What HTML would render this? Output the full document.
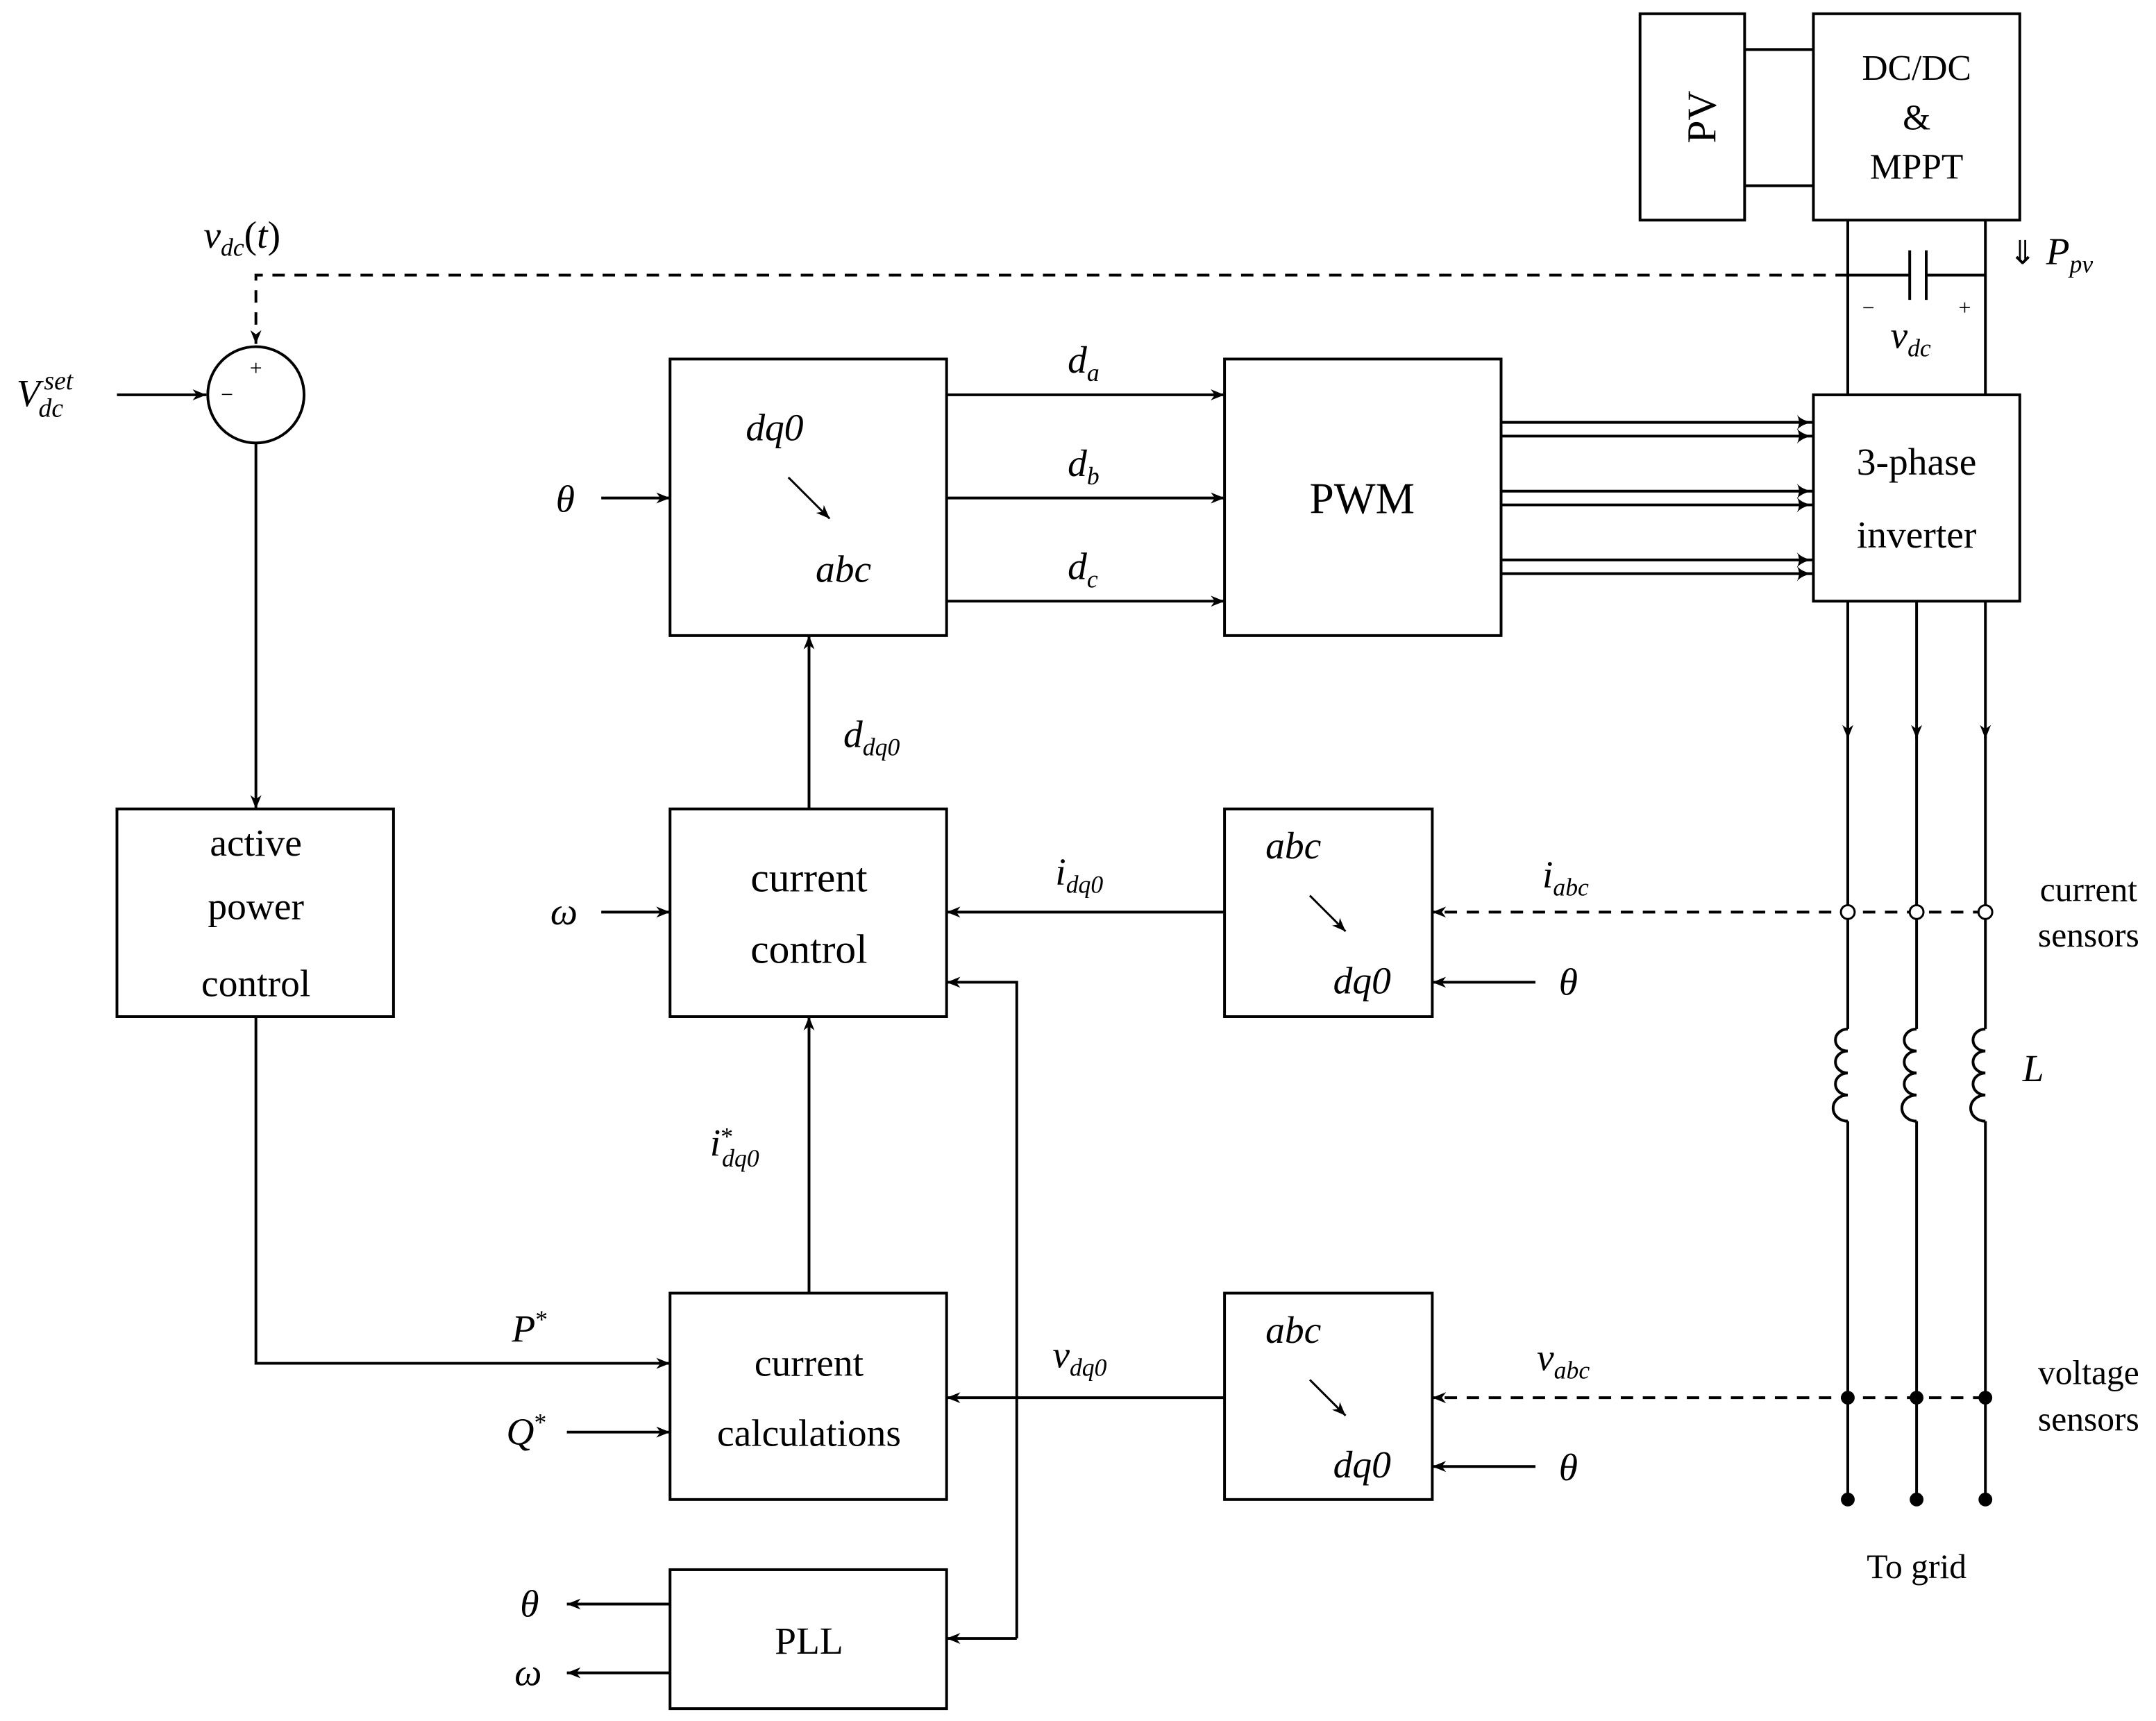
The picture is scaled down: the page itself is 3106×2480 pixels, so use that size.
<!DOCTYPE html>
<html><head><meta charset="utf-8"><style>
html,body{margin:0;padding:0;background:#fff;}
svg{display:block;}
text{font-family:"Liberation Serif",serif;fill:#000;}
.m{font-style:italic;}
</style></head><body>
<svg width="3106" height="2480" viewBox="0 0 1567 1251" preserveAspectRatio="none" xmlns="http://www.w3.org/2000/svg">
<defs>
<marker id="a" markerWidth="12" markerHeight="10" refX="10" refY="5" orient="auto" markerUnits="userSpaceOnUse">
<path d="M0,1 L10,5 L0,9 L3,5 Z" fill="#000"/>
</marker>
<marker id="b" markerWidth="14" markerHeight="12" refX="12" refY="6" orient="auto" markerUnits="userSpaceOnUse">
<path d="M0,0.5 Q4,5 12,6 Q4,7 0,11.5 Q3,6 0,0.5 Z" fill="#000"/>
</marker>
</defs>
<g stroke="#000" stroke-width="2" fill="none">
<rect x="1192" y="10" width="76" height="150"/>
<rect x="1318" y="10" width="150" height="150"/>
<line x1="1268" y1="36" x2="1318" y2="36"/>
<line x1="1268" y1="135" x2="1318" y2="135"/>
<rect x="85" y="588" width="201" height="151"/>
<rect x="487" y="261" width="201" height="201"/>
<rect x="890" y="261" width="201" height="201"/>
<rect x="1318" y="287" width="150" height="150"/>
<rect x="487" y="588" width="201" height="151"/>
<rect x="890" y="588" width="151" height="151"/>
<rect x="487" y="940" width="201" height="150"/>
<rect x="890" y="940" width="151" height="150"/>
<rect x="487" y="1141" width="201" height="101"/>
<circle cx="186" cy="287" r="35"/>
<line x1="1343" y1="160" x2="1343" y2="287"/>
<line x1="1443" y1="160" x2="1443" y2="287"/>
<line x1="1343" y1="200" x2="1388" y2="200"/>
<line x1="1400" y1="200" x2="1443" y2="200"/>
<line x1="1388" y1="182" x2="1388" y2="218"/>
<line x1="1400" y1="182" x2="1400" y2="218"/>
<path d="M1343,200 H186 V250" stroke-dasharray="9,7" marker-end="url(#a)"/>
<line x1="85" y1="287" x2="150" y2="287" marker-end="url(#a)"/>
<line x1="186" y1="322" x2="186" y2="588" marker-end="url(#a)"/>
<path d="M186,739 V991 H487" marker-end="url(#a)"/>
<line x1="412" y1="1041" x2="487" y2="1041" marker-end="url(#a)"/>
<line x1="588" y1="940" x2="588" y2="739" marker-end="url(#a)"/>
<line x1="437" y1="663" x2="487" y2="663" marker-end="url(#a)"/>
<line x1="588" y1="588" x2="588" y2="462" marker-end="url(#a)"/>
<line x1="437" y1="362" x2="487" y2="362" marker-end="url(#a)"/>
<line x1="688" y1="287" x2="890" y2="287" marker-end="url(#a)"/>
<line x1="688" y1="362" x2="890" y2="362" marker-end="url(#a)"/>
<line x1="688" y1="437" x2="890" y2="437" marker-end="url(#a)"/>
<line x1="1091" y1="307" x2="1318" y2="307" marker-end="url(#b)"/>
<line x1="1091" y1="317" x2="1318" y2="317" marker-end="url(#b)"/>
<line x1="1091" y1="357" x2="1318" y2="357" marker-end="url(#b)"/>
<line x1="1091" y1="367" x2="1318" y2="367" marker-end="url(#b)"/>
<line x1="1091" y1="407" x2="1318" y2="407" marker-end="url(#b)"/>
<line x1="1091" y1="417" x2="1318" y2="417" marker-end="url(#b)"/>
<line x1="1343" y1="437" x2="1343" y2="537" marker-end="url(#a)"/>
<line x1="1393" y1="437" x2="1393" y2="537" marker-end="url(#a)"/>
<line x1="1443" y1="437" x2="1443" y2="537" marker-end="url(#a)"/>
<line x1="1343" y1="535" x2="1343" y2="748"/>
<line x1="1393" y1="535" x2="1393" y2="748"/>
<line x1="1443" y1="535" x2="1443" y2="748"/>
<line x1="1343" y1="815" x2="1343" y2="1090"/>
<line x1="1393" y1="815" x2="1393" y2="1090"/>
<line x1="1443" y1="815" x2="1443" y2="1090"/>
<path d="M1343,748 a9,8 0 1 0 0,16 a9,8 0 1 0 0,16 a9,8 0 1 0 0,16 a9,8 0 1 0 0,19"/>
<path d="M1393,748 a9,8 0 1 0 0,16 a9,8 0 1 0 0,16 a9,8 0 1 0 0,16 a9,8 0 1 0 0,19"/>
<path d="M1443,748 a9,8 0 1 0 0,16 a9,8 0 1 0 0,16 a9,8 0 1 0 0,16 a9,8 0 1 0 0,19"/>
<line x1="1443" y1="663" x2="1041" y2="663" stroke-dasharray="9,7" marker-end="url(#a)"/>
<line x1="1443" y1="1016" x2="1041" y2="1016" stroke-dasharray="9,7" marker-end="url(#a)"/>
<line x1="1116" y1="714" x2="1041" y2="714" marker-end="url(#a)"/>
<line x1="1116" y1="1066" x2="1041" y2="1066" marker-end="url(#a)"/>
<line x1="890" y1="663" x2="688" y2="663" marker-end="url(#a)"/>
<line x1="890" y1="1016" x2="688" y2="1016" marker-end="url(#a)"/>
<path d="M739,1191 V714 H688" marker-end="url(#a)"/>
<line x1="739" y1="1191" x2="688" y2="1191" marker-end="url(#a)"/>
<line x1="487" y1="1166" x2="412" y2="1166" marker-end="url(#a)"/>
<line x1="487" y1="1216" x2="412" y2="1216" marker-end="url(#a)"/>
<line x1="573" y1="347" x2="603" y2="377" marker-end="url(#a)" stroke-width="1.5"/>
<line x1="952" y1="651" x2="978" y2="677" marker-end="url(#a)" stroke-width="1.5"/>
<line x1="952" y1="1003" x2="978" y2="1029" marker-end="url(#a)" stroke-width="1.5"/>
</g>
<g fill="#fff" stroke="#000" stroke-width="1.5">
<circle cx="1343" cy="663" r="5"/><circle cx="1393" cy="663" r="5"/><circle cx="1443" cy="663" r="5"/>
</g>
<g fill="#000">
<circle cx="1343" cy="1016" r="5"/><circle cx="1393" cy="1016" r="5"/><circle cx="1443" cy="1016" r="5"/>
<circle cx="1343" cy="1090" r="5"/><circle cx="1393" cy="1090" r="5"/><circle cx="1443" cy="1090" r="5"/>
</g>
<g font-size="26" text-anchor="middle">
<text x="1240" y="85" transform="rotate(-90 1240 85)" dominant-baseline="middle" font-size="30">PV</text>
<text x="1393" y="58">DC/DC</text>
<text x="1393" y="94">&amp;</text>
<text x="1393" y="130">MPPT</text>
<text x="1393" y="345" font-size="28">3-phase</text>
<text x="1393" y="398" font-size="28">inverter</text>
<text x="990" y="373" font-size="32">PWM</text>
<text x="186" y="622" font-size="28">active</text>
<text x="186" y="668" font-size="28">power</text>
<text x="186" y="724" font-size="28">control</text>
<text x="588" y="648" font-size="30">current</text>
<text x="588" y="700" font-size="30">control</text>
<text x="588" y="1000" font-size="28">current</text>
<text x="588" y="1051" font-size="28">calculations</text>
<text x="588" y="1202" font-size="28">PLL</text>
<text x="1518" y="655" font-size="25">current</text>
<text x="1518" y="688" font-size="25">sensors</text>
<text x="1518" y="1006" font-size="25">voltage</text>
<text x="1518" y="1040" font-size="25">sensors</text>
<text x="1393" y="1147" font-size="25">To grid</text>
</g>
<g class="m" font-size="28">
<text x="563" y="320" text-anchor="middle">dq0</text>
<text x="613" y="423" text-anchor="middle">abc</text>
<text x="940" y="624" text-anchor="middle">abc</text>
<text x="990" y="722" text-anchor="middle">dq0</text>
<text x="940" y="976" text-anchor="middle">abc</text>
<text x="990" y="1074" text-anchor="middle">dq0</text>
<text x="148" y="180">v<tspan font-size="18" dy="6">dc</tspan><tspan dy="-6" font-style="normal">(</tspan>t<tspan font-style="normal">)</tspan></text>
<text x="12" y="295">V</text>
<text x="32" y="283" font-size="19">set</text>
<text x="28" y="303" font-size="19">dc</text>
<text x="404" y="372">θ</text>
<text x="400" y="672">ω</text>
<text x="372" y="975">P<tspan font-size="18" dy="-10" font-style="normal">*</tspan></text>
<text x="368" y="1050">Q<tspan font-size="18" dy="-10" font-style="normal">*</tspan></text>
<text x="378" y="1175">θ</text>
<text x="374" y="1225">ω</text>
<text x="1133" y="723">θ</text>
<text x="1133" y="1076">θ</text>
<text x="776" y="271">d<tspan font-size="18" dy="6">a</tspan></text>
<text x="776" y="346">d<tspan font-size="18" dy="6">b</tspan></text>
<text x="776" y="421">d<tspan font-size="18" dy="6">c</tspan></text>
<text x="613" y="543">d<tspan font-size="18" dy="6">dq0</tspan></text>
<text x="516" y="840">i<tspan font-size="18" dy="-8" font-style="normal">*</tspan><tspan font-size="18" dx="-8" dy="16">dq0</tspan></text>
<text x="767" y="643">i<tspan font-size="18" dy="6">dq0</tspan></text>
<text x="1121" y="645">i<tspan font-size="18" dy="6">abc</tspan></text>
<text x="765" y="994">v<tspan font-size="18" dy="6">dq0</tspan></text>
<text x="1117" y="996">v<tspan font-size="18" dy="6">abc</tspan></text>
<text x="1374" y="253">v<tspan font-size="18" dy="6">dc</tspan></text>
<text x="1460" y="192"><tspan font-style="normal" font-size="24">⇓</tspan> P<tspan font-size="18" dy="6">pv</tspan></text>
<text x="1470" y="786">L</text>
</g>
<g font-size="16" text-anchor="middle">
<text x="186" y="273">+</text>
<text x="165" y="292">−</text>
<text x="1358" y="229">−</text>
<text x="1428" y="229">+</text>
</g>
</svg>
</body></html>
